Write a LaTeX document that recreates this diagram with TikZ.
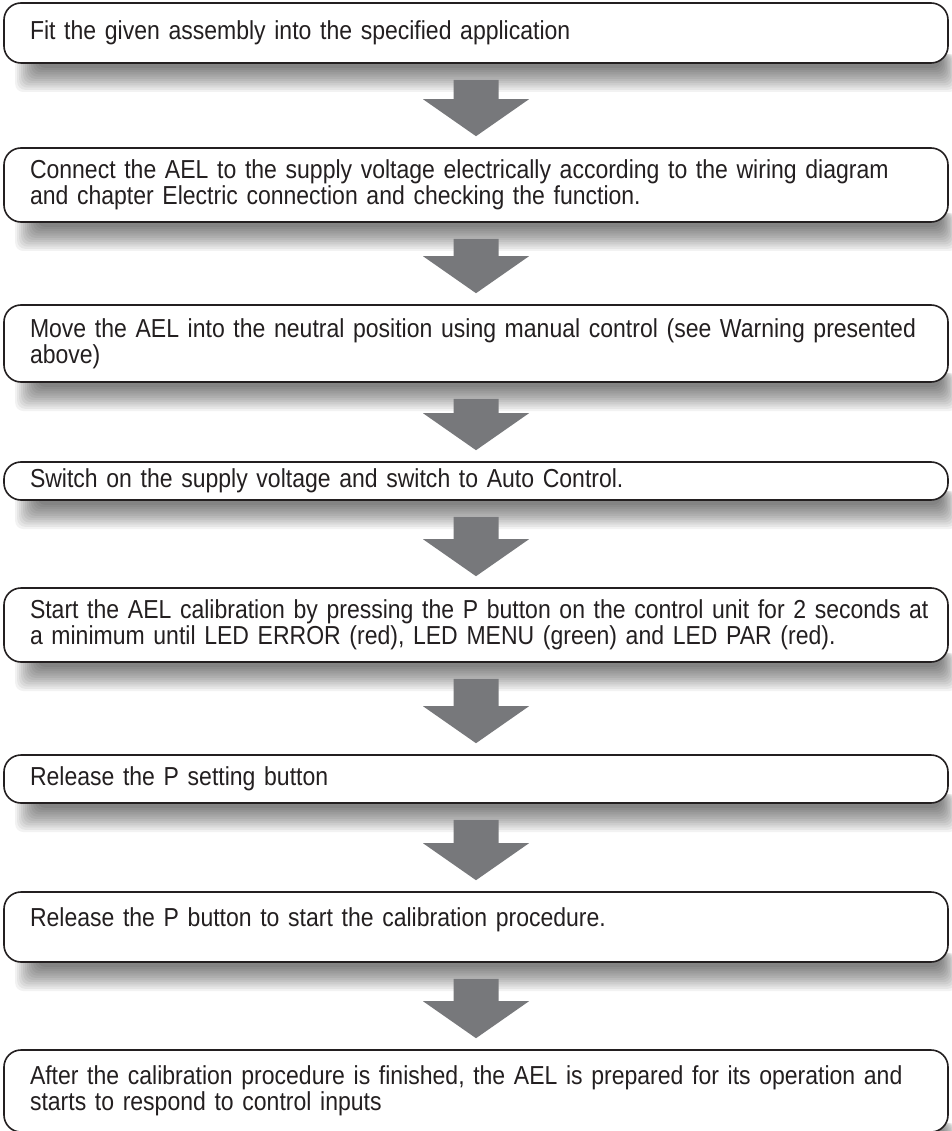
\documentclass[tikz,border=0pt]{standalone}
\usepackage{fontspec}
\setmainfont[FakeStretch=0.885]{Liberation Sans}
\usetikzlibrary{calc,backgrounds}
\definecolor{flowink}{RGB}{35,31,32}
\definecolor{flowgray}{RGB}{119,120,123}
\hyphenpenalty=10000

% block arrow from the shadow of one step down to the next step
\newcommand{\flowarrow}[2]{%
  \coordinate (#1top) at ($(#1.south)+(0,-16)$);
  \coordinate (#1tip) at ($(#2.north)+(0,11)$);
  \fill[flowgray] ($(#1top)+(-22.5,0)$) -- ($(#1top)+(22.5,0)$)
    -- ($(#1tip)+(22.5,37)$) -- ($(#1tip)+(53,37)$) -- (#1tip)
    -- ($(#1tip)+(-53,37)$) -- ($(#1tip)+(-22.5,37)$) -- cycle;}
% soft shadow under a step
\newcommand{\stepshadow}[1]{%
  \begin{scope}[on background layer]
    \foreach \r in {0,...,11}
      \fill[black,opacity=0.05,rounded corners=8pt]
        ($(#1.south west)+(34-2*\r,10)$) rectangle ($(#1.south east)+(-8+1.5*\r,-4-2.2*\r)$);
  \end{scope}}

\begin{document}
\begin{tikzpicture}[
  x=1pt,y=1pt,
  stepbox/.style={draw=flowink,line width=1.6pt,rounded corners=17pt,fill=white,
    text=flowink,align=left,text width=892pt,inner xsep=26pt,inner ysep=0pt,
    font=\fontsize{26}{26}\selectfont}
]
  \begin{scope}[on background layer]
    \fill[white] (0,0) rectangle (951,-1131);
  \end{scope}
  \useasboundingbox (0,0) rectangle (951,-1131);
  % Steps
  \node[stepbox,minimum height=60pt] (fit) at (476,-33) {Fit the given assembly into the specified application};
  \node[stepbox,minimum height=74pt] (connect) at (476,-185) {Connect the AEL to the supply voltage electrically according to the wiring diagram\\and chapter Electric connection and checking the function.};
  \node[stepbox,minimum height=77pt] (neutral) at (476,-343.5) {\mbox{Move the AEL into the neutral position using manual control (see Warning presented}\\above)};
  \node[stepbox,minimum height=38pt] (switchon) at (476,-481) {Switch on the supply voltage and switch to Auto Control.};
  \node[stepbox,minimum height=74pt] (start) at (476,-625) {\mbox{Start the AEL calibration by pressing the P button on the control unit for 2 seconds at}\\a minimum until LED ERROR (red), LED MENU (green) and LED PAR (red).};
  \node[stepbox,minimum height=48pt] (release) at (476,-779) {Release the P setting button};
  \node[stepbox,minimum height=70pt] (releasep) at (476,-927) {\raisebox{20pt}{Release the P button to start the calibration procedure.}};
  \node[stepbox,minimum height=82pt] (done) at (476,-1091) {\mbox{After the calibration procedure is finished, the AEL is prepared for its operation and}\\starts to respond to control inputs};
  % Shadows
  \foreach \s in {fit,connect,neutral,switchon,start,release,releasep,done}
    \stepshadow{\s};
  % Arrows
  \flowarrow{fit}{connect}
  \flowarrow{connect}{neutral}
  \flowarrow{neutral}{switchon}
  \flowarrow{switchon}{start}
  \flowarrow{start}{release}
  \flowarrow{release}{releasep}
  \flowarrow{releasep}{done}
\end{tikzpicture}
\end{document}
